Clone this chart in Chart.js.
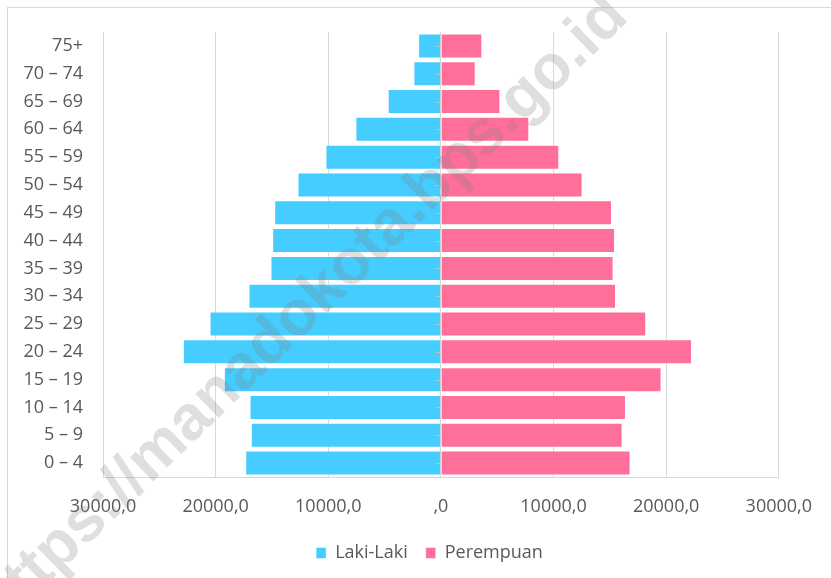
<!DOCTYPE html>
<html>
<head>
<meta charset="utf-8">
<script src="https://cdn.jsdelivr.net/npm/chart.js@4/dist/chart.umd.min.js"></script>
<style>
  body { margin: 0; background: #fff; overflow: hidden; }
  #wrap { position: relative; width: 831px; height: 578px; overflow: hidden; }
  #frame { position: absolute; left: 7px; top: 7px; width: 900px; height: 700px; border-top: 1px solid #d9d9d9; border-left: 1px solid #d9d9d9; }
  canvas { position: absolute; left: 0; top: 0; }
</style>
</head>
<body>
<div id="wrap">
  <div id="frame"></div>
  <canvas id="pyramid" width="831" height="578"></canvas>
</div>
<script>
// kelompok umur, atas ke bawah
var ageGroups = ['75+', '70 – 74', '65 – 69', '60 – 64', '55 – 59', '50 – 54', '45 – 49', '40 – 44',
                 '35 – 39', '30 – 34', '25 – 29', '20 – 24', '15 – 19', '10 – 14', '5 – 9', '0 – 4'];
var lakiLaki = [2020, 2440, 4720, 7590, 10250, 12730, 14800, 14980,
                15130, 17080, 20540, 22910, 19270, 16990, 16880, 17370];
var perempuan = [3680, 3090, 5280, 7850, 10510, 12580, 15190, 15460,
                 15330, 15550, 18230, 22290, 19590, 16430, 16130, 16840];
var xTicks = [-30000, -20000, -10000, 0, 10000, 20000, 30000];

var textColor = '#595959';
var gridColor = '#d9d9d9';
var font = '"Open Sans", "Noto Sans", sans-serif';

function fmtTick(v) {
  var a = Math.abs(v);
  return a === 0 ? ',0' : a + ',0';
}

// small tick marks on the category axis, sitting at zero
var zeroTicks = {
  id: 'zeroTicks',
  afterDatasetsDraw: function(chart) {
    var ctx = chart.ctx, xs = chart.scales.x, ys = chart.scales.y;
    var x0 = xs.getPixelForValue(0);
    ctx.save();
    ctx.strokeStyle = '#bfbfbf';
    ctx.lineWidth = 1;
    ys.ticks.forEach(function(t, i) {
      var y = Math.round(ys.getPixelForTick(i)) + 0.5;
      ctx.beginPath();
      ctx.moveTo(x0 - 5, y);
      ctx.lineTo(x0, y);
      ctx.stroke();
    });
    ctx.restore();
  }
};

// legend in the original is centred on the whole chart frame, a bit right of the canvas middle
var legendShift = {
  id: 'legendShift',
  afterLayout: function(chart) {
    chart.legend.left += 40;
    chart.legend.right += 40;
  }
};

// site watermark running across the picture
var watermark = {
  id: 'watermark',
  afterDraw: function(chart) {
    var ctx = chart.ctx;
    var text = 'https://manadokota.bps.go.id';
    ctx.save();
    ctx.font = 'bold 63px "Liberation Sans", Arial, sans-serif';
    var off = ctx.measureText('https://manadokota').width + ctx.measureText('.').width / 2;
    ctx.translate(420, 217);
    ctx.rotate(-44.1 * Math.PI / 180);
    ctx.fillStyle = 'rgba(128,128,128,0.25)';
    ctx.textAlign = 'left';
    ctx.textBaseline = 'alphabetic';
    ctx.fillText(text, -off, 4);
    ctx.restore();
  }
};

new Chart(document.getElementById('pyramid'), {
  type: 'bar',
  data: {
    labels: ageGroups,
    datasets: [{
      label: 'Laki-Laki',
      data: lakiLaki.map(function(v) { return -v; }),
      backgroundColor: '#45cdff',
      borderColor: 'rgba(255,255,255,0.45)',
      borderWidth: 1,
      categoryPercentage: 0.9,
      barPercentage: 1
    }, {
      label: 'Perempuan',
      data: perempuan,
      backgroundColor: '#ff6f9a',
      borderColor: 'rgba(255,255,255,0.45)',
      borderWidth: 1,
      categoryPercentage: 0.9,
      barPercentage: 1
    }]
  },
  options: {
    indexAxis: 'y',
    responsive: false,
    animation: false,
    layout: {
      padding: { left: 0, right: 52, top: 32, bottom: 6 }
    },
    plugins: {
      legend: {
        position: 'bottom',
        labels: {
          boxWidth: 10,
          boxHeight: 11,
          padding: 18,
          color: textColor,
          font: { family: font, size: 18 }
        }
      },
      tooltip: { enabled: false }
    },
    scales: {
      x: {
        stacked: true,
        min: -30000,
        max: 30000,
        afterBuildTicks: function(scale) {
          scale.ticks = xTicks.map(function(v) { return { value: v }; });
        },
        afterFit: function(scale) { scale.height = 49; },
        grid: { color: gridColor, drawTicks: false },
        border: { color: gridColor },
        ticks: {
          padding: 19,
          color: textColor,
          font: { family: font, size: 18 },
          maxRotation: 0,
          callback: function(v) { return fmtTick(v); }
        }
      },
      y: {
        stacked: true,
        afterFit: function(scale) { scale.width = 103; },
        grid: { display: false, drawTicks: false },
        border: { display: false },
        ticks: {
          padding: 20,
          color: textColor,
          font: { family: font, size: 18 }
        }
      }
    }
  },
  plugins: [zeroTicks, legendShift, watermark]
});
</script>
</body>
</html>
